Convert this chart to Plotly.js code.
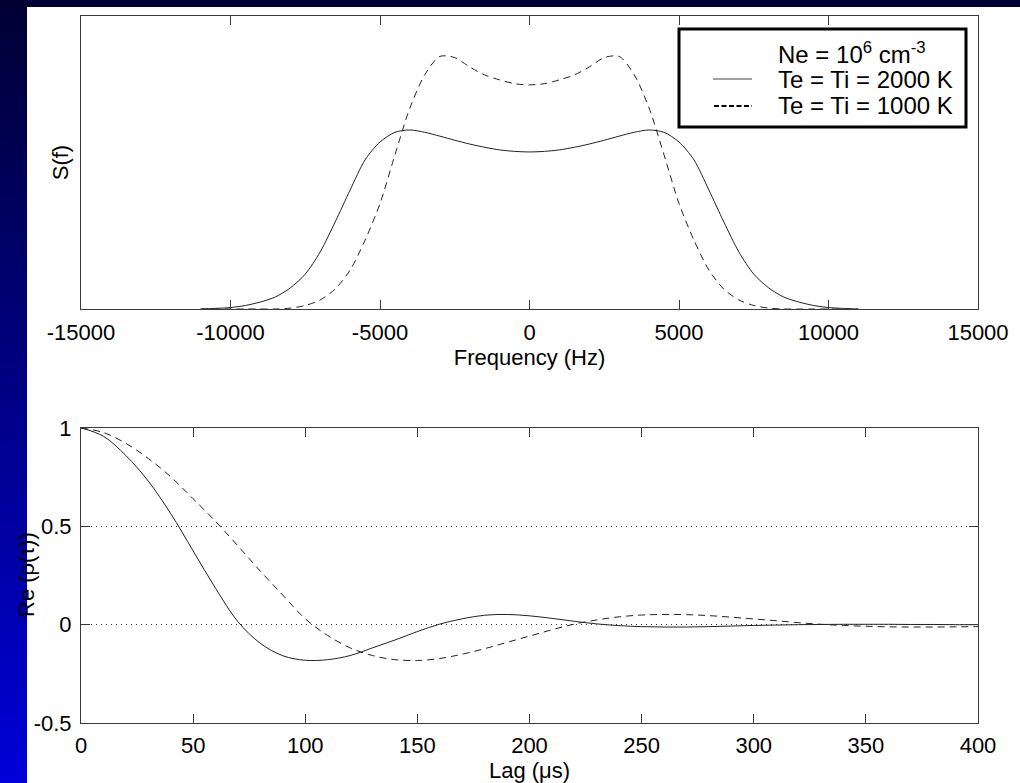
<!DOCTYPE html>
<html>
<head>
<meta charset="utf-8">
<script src="https://cdn.plot.ly/plotly-3.0.1.min.js"></script>
<style>
  html, body { margin: 0; padding: 0; }
  #wrap { position: relative; width: 1020px; height: 783px; overflow: hidden; background: #000033; }
  #white { position: absolute; left: 27px; top: 7px; width: 993px; height: 776px; background: #ffffff; }
  #strip { position: absolute; left: 0; top: 0; width: 27px; height: 783px; background: linear-gradient(#000033, #0000d8); }
  #chart { position: absolute; left: 0; top: 0; width: 1020px; height: 783px; }
</style>
</head>
<body>
<div id="wrap">
  <div id="white"></div>
  <div id="strip"></div>
  <div id="chart"></div>
</div>
<script>
// ---- data ----
const freqHz = [-11000,-10500,-10000,-9500,-9000,-8500,-8000,-7500,-7000,-6500,-6000,-5500,-5000,-4500,-4000,-3500,-3000,-2500,-2000,-1500,-1000,-500,
  0,500,1000,1500,2000,2500,3000,3500,4000,4500,5000,5500,6000,6500,7000,7500,8000,8500,9000,9500,10000,10500,11000];
const spec2000K = [0.000,0.002,0.005,0.012,0.024,0.041,0.072,0.119,0.195,0.297,0.406,0.509,0.570,0.603,0.611,0.603,0.590,0.576,0.563,0.552,0.543,0.538,
  0.536,0.538,0.543,0.552,0.563,0.576,0.590,0.603,0.611,0.603,0.570,0.509,0.406,0.297,0.195,0.119,0.072,0.041,0.024,0.012,0.005,0.002,0.000];
const spec1000K = [0,0,0,0,0,0.000,0.003,0.012,0.031,0.068,0.133,0.235,0.360,0.526,0.686,0.800,0.862,0.858,0.826,0.799,0.782,0.769,
  0.765,0.769,0.782,0.799,0.826,0.858,0.862,0.800,0.686,0.526,0.360,0.235,0.133,0.068,0.031,0.012,0.003,0.000,0,0,0,0,0];

const lagUs = [0,10,20,30,40,50,60,70,80,90,100,110,120,130,140,150,160,170,180,190,200,
  210,220,230,240,250,260,270,280,290,300,310,320,330,340,350,360,370,380,390,400];
const rho2000K = [1.000,0.958,0.860,0.730,0.565,0.375,0.185,0.015,-0.095,-0.158,-0.181,-0.178,-0.157,-0.118,-0.078,-0.035,0.003,0.030,0.048,0.052,0.045,
  0.032,0.017,0.004,-0.005,-0.010,-0.012,-0.012,-0.010,-0.007,-0.004,-0.002,0.000,0.001,0.002,0.002,0.002,0.001,0.001,0.000,0.000];
const rho1000K = [1.000,0.977,0.922,0.845,0.752,0.640,0.525,0.400,0.272,0.150,0.030,-0.055,-0.118,-0.157,-0.178,-0.182,-0.172,-0.150,-0.122,-0.090,-0.058,
  -0.026,0.003,0.024,0.040,0.049,0.052,0.051,0.046,0.038,0.029,0.020,0.010,0.002,-0.004,-0.008,-0.011,-0.012,-0.012,-0.011,-0.010];

const freqTicks = [-15000,-10000,-5000,0,5000,10000,15000];
const lagTicks = [0,50,100,150,200,250,300,350,400];
const rhoTicks = [-0.5,0,0.5,1];
const rhoTickText = ['-0.5','0','0.5','1'];

const legendTitle = 'Ne = 10<sup>6</sup> cm<sup>-3</sup>';
const name2000 = 'Te = Ti = 2000 K';
const name1000 = 'Te = Ti = 1000 K';
const rhoTitle = 'Re (ρ(τ))';

// ---- layout helpers ----
const W = 1020, H = 783;
const px = x => x / W;
const py = y => 1 - y / H;
const FONT = 'Liberation Sans, Arial, Helvetica, sans-serif';
const AX = '#3a3a3a';

const traces = [
  {x: freqHz, y: spec2000K, xaxis: 'x', yaxis: 'y', mode: 'lines', name: name2000, showlegend: false,
   line: {color: '#222', width: 1, shape: 'spline', smoothing: 0.8}},
  {x: freqHz, y: spec1000K, xaxis: 'x', yaxis: 'y', mode: 'lines', name: name1000, showlegend: false,
   line: {color: '#222', width: 1, dash: '7px,5px', shape: 'spline', smoothing: 0.8}},
  {x: lagUs, y: rho2000K, xaxis: 'x2', yaxis: 'y2', mode: 'lines', name: name2000, showlegend: false,
   line: {color: '#222', width: 1, shape: 'spline', smoothing: 1}},
  {x: lagUs, y: rho1000K, xaxis: 'x2', yaxis: 'y2', mode: 'lines', name: name1000, showlegend: false,
   line: {color: '#222', width: 1, dash: '7px,5px', shape: 'spline', smoothing: 1}}
];

const axisCommon = {
  showline: true, linecolor: AX, linewidth: 1, zeroline: false,
  tickcolor: AX, ticklen: 9, tickwidth: 1,
  tickfont: {family: FONT, size: 22, color: '#000'}
};

const layout = {
  width: W, height: H,
  margin: {l: 0, r: 0, t: 0, b: 0},
  paper_bgcolor: 'rgba(0,0,0,0)',
  plot_bgcolor: '#ffffff',
  showlegend: false,
  font: {family: FONT, color: '#000'},
  xaxis: Object.assign({}, axisCommon, {
    domain: [px(81), px(978)], anchor: 'y', range: [-15000, 15000],
    tickmode: 'array', tickvals: freqTicks, ticktext: freqTicks.map(String),
    ticks: 'inside', mirror: 'ticks', showgrid: false, ticklabelstandoff: 4,
    title: {text: 'Frequency (Hz)', font: {family: FONT, size: 22}, standoff: 3}
  }),
  yaxis: Object.assign({}, axisCommon, {
    domain: [py(309), py(16)], anchor: 'x', range: [0, 1],
    ticks: '', showticklabels: false, mirror: true, showgrid: false,
    title: {text: 'S(f)', font: {family: FONT, size: 22}, standoff: 5}
  }),
  xaxis2: Object.assign({}, axisCommon, {
    domain: [px(81), px(978)], anchor: 'y2', range: [0, 400],
    tickmode: 'array', tickvals: lagTicks, ticktext: lagTicks.map(String),
    ticks: 'inside', mirror: 'ticks', showgrid: false, ticklabelstandoff: 3,
    title: {text: 'Lag (μs)', font: {family: FONT, size: 22}, standoff: 0}
  }),
  yaxis2: Object.assign({}, axisCommon, {
    domain: [py(723), py(428)], anchor: 'x2', range: [-0.5, 1],
    tickmode: 'array', tickvals: rhoTicks, ticktext: rhoTickText,
    ticks: 'inside', mirror: 'ticks', ticklabelstandoff: 4,
    showgrid: true, gridcolor: '#333', gridwidth: 1, griddash: '1px,4px'
  }),
  shapes: [
    {type: 'rect', xref: 'paper', yref: 'paper', x0: px(679), x1: px(966), y0: py(127), y1: py(29),
     line: {color: '#000', width: 3}, fillcolor: '#ffffff', layer: 'above'},
    {type: 'line', xref: 'paper', yref: 'paper', x0: px(713), x1: px(752), y0: py(79), y1: py(79),
     line: {color: '#444', width: 1}},
    {type: 'line', xref: 'paper', yref: 'paper', x0: px(714), x1: px(752), y0: py(106), y1: py(106),
     line: {color: '#000', width: 2, dash: '5px,2.5px'}}
  ],
  annotations: [
    {xref: 'paper', yref: 'paper', x: px(26), y: py(575), xanchor: 'center', yanchor: 'middle', showarrow: false,
     textangle: -90, text: rhoTitle, font: {family: FONT, size: 22, color: '#000'}},
    {xref: 'paper', yref: 'paper', x: px(776), y: py(53), xanchor: 'left', yanchor: 'middle', showarrow: false,
     text: legendTitle, font: {family: FONT, size: 24, color: '#000'}},
    {xref: 'paper', yref: 'paper', x: px(776), y: py(79), xanchor: 'left', yanchor: 'middle', showarrow: false,
     text: name2000, font: {family: FONT, size: 24, color: '#000'}},
    {xref: 'paper', yref: 'paper', x: px(776), y: py(106), xanchor: 'left', yanchor: 'middle', showarrow: false,
     text: name1000, font: {family: FONT, size: 24, color: '#000'}}
  ]
};

Plotly.newPlot('chart', traces, layout, {displayModeBar: false, staticPlot: true});
</script>
</body>
</html>
